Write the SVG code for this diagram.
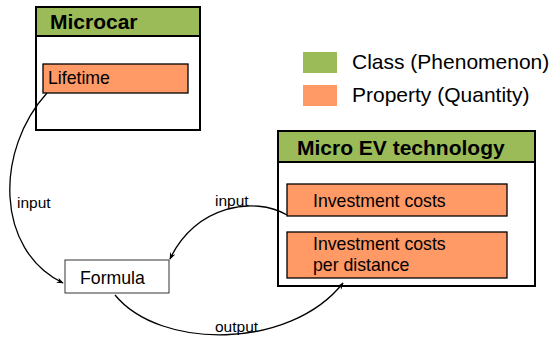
<svg xmlns="http://www.w3.org/2000/svg" width="554" height="341" viewBox="0 0 554 341">
<defs>
<marker id="arr" viewBox="0 0 10 10" refX="9" refY="5" markerWidth="7" markerHeight="7" markerUnits="userSpaceOnUse" orient="auto">
<path d="M0,1 L10,5 L0,9 L3,5 Z" fill="#000"/>
</marker>
</defs>
<style>
text{font-family:"Liberation Sans",Arial,sans-serif;fill:#000}
.cls{fill:#fff;stroke:#000;stroke-width:2}
.hdr{fill:#9bbb59;stroke:#000;stroke-width:2}
.prop{fill:#ff9966;stroke:#000;stroke-width:1.3}
.title{font-size:21px;font-weight:bold}
.lbl{font-size:17.7px}
.edge{font-size:15.5px}
.conn{fill:none;stroke:#000;stroke-width:1.3}
</style>
<rect width="554" height="341" fill="#fff"/>
<g id="microcar">
<rect class="cls" x="36" y="7" width="164" height="123"/>
<rect class="hdr" x="36" y="7" width="164" height="29"/>
<text class="title" x="50" y="29">Microcar</text>
</g>
<g id="lifetime">
<rect class="prop" x="43" y="64" width="145" height="29"/>
<text class="lbl" x="48" y="84">Lifetime</text>
</g>
<g id="legend">
<rect x="303" y="52" width="34" height="21" fill="#9bbb59"/>
<text class="lbl" x="352" y="69" style="font-size:21px">Class (Phenomenon)</text>
<rect x="303" y="85" width="34" height="21" fill="#ff9966"/>
<text class="lbl" x="352" y="102" style="font-size:21px">Property (Quantity)</text>
</g>
<g id="microev">
<rect class="cls" x="278" y="131" width="257" height="155"/>
<rect class="hdr" x="278" y="131" width="257" height="31"/>
<text class="title" x="297" y="155">Micro EV technology</text>
</g>
<g id="invcosts">
<rect class="prop" x="287" y="184" width="220" height="32"/>
<text class="lbl" x="313" y="207">Investment costs</text>
</g>
<g id="invcostsdist">
<rect class="prop" x="287" y="232" width="220" height="46"/>
<text class="lbl" x="313" y="250">Investment costs</text>
<text class="lbl" x="313" y="271">per distance</text>
</g>
<g id="formula">
<rect x="65" y="260" width="104" height="33" fill="#fff" stroke="#333" stroke-width="1"/>
<text class="lbl" x="80" y="284">Formula</text>
</g>
<g id="connectors">
<path class="conn" d="M47,93 C-5,150 -5,250 63,283" marker-end="url(#arr)"/>
<text class="edge" x="17" y="208">input</text>
<path class="conn" d="M287,215 C255,196 195,205 170,259" marker-end="url(#arr)"/>
<text class="edge" x="215" y="206">input</text>
<path class="conn" d="M115,295 C160,350 290,350 343,283" marker-end="url(#arr)"/>
<text class="edge" x="215" y="332">output</text>
</g>
</svg>
